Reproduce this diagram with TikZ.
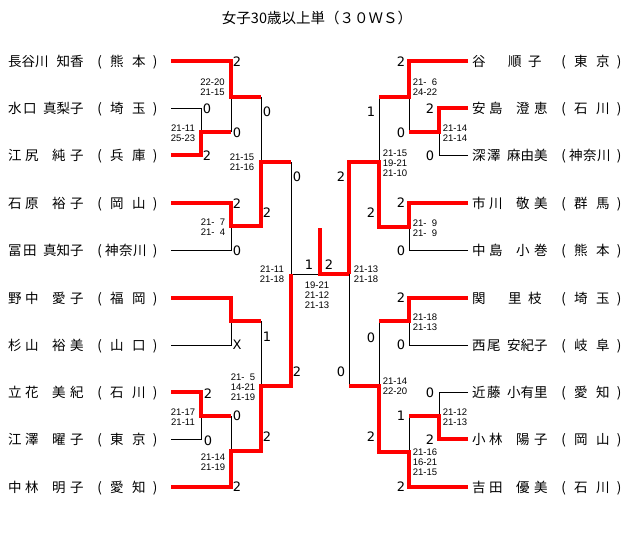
\documentclass[tikz,border=0pt]{standalone}
\usepackage{fontspec}
\setmainfont{Liberation Sans}
\newfontfamily\jpfont{Noto Sans CJK JP}
\newfontfamily\scfont{DejaVu Sans}
\definecolor{wred}{RGB}{255,0,0}
\newcommand\cb[2]{\makebox[#1pt][l]{#2}}
\newcommand\po{\makebox[8pt][c]{(}}
\newcommand\pc{\makebox[8pt][c]{)}}
\newcommand\nCB[5]{\cb{13.5}{#1}\cb{13.5}{#2}\cb{21.5}{#3}\cb{13.5}{#4}\cb{25.5}{#5}}
\newcommand\nBC[5]{\cb{15}{#1}\cb{20}{#2}\cb{13.5}{#3}\cb{13.5}{#4}\cb{25.5}{#5}}
\newcommand\nBB[4]{\cb{17}{#1}\cb{27}{#2}\cb{18}{#3}\cb{25.5}{#4}}
\newcommand\nAB[3]{\cb{36}{#1}\cb{20}{#2}\cb{31.5}{#3}}
\newcommand\pB[2]{\po\hspace{6.5pt}\cb{22}{#1}\cb{19}{#2}\pc}
\newcommand\pC[3]{\po\hspace{1.5pt}\cb{14}{#1}\cb{14}{#2}\cb{18}{#3}\pc}
\newcommand\ph{\phantom{0}}
\tikzset{
  win/.style={draw=wred, line width=3.6pt, line join=miter},
  los/.style={draw=black, line width=1pt},
  lbl/.style={anchor=west, inner sep=0pt, font=\jpfont\fontsize{13.5}{14}\selectfont, text height=11.9pt, text depth=1.6pt},
  sc/.style={inner sep=0pt, font=\scfont\fontsize{13}{14}\selectfont},
  gm/.style={inner sep=0pt, align=center, font=\fontsize{9.5}{10}\selectfont},
  ttl/.style={inner sep=0pt, font=\jpfont\fontsize{14.5}{16}\selectfont},
}
\begin{document}
\begin{tikzpicture}[x=1pt,y=-1pt]
\fill[white] (0,0) rectangle (640,533);
\useasboundingbox (0,0) rectangle (640,533);

\node[ttl] (title) at (317,18) {女子30歳以上単（３０ＷＳ）};

% player line ends
\foreach \i/\y in {1/61,2/108,3/155,4/203,5/250,6/298,7/345,8/392,9/439,10/487}{
  \coordinate (pl\i) at (171,\y);
  \coordinate (pr\i) at (468,\y);
}
% junctions
\coordinate (a1) at (231,97);
\coordinate (a2) at (201,132);
\coordinate (a3) at (231,226);
\coordinate (b1) at (261,162);
\coordinate (a4) at (231,321);
\coordinate (a5) at (201,416);
\coordinate (a6) at (231,451);
\coordinate (b2) at (261,386);
\coordinate (c1) at (291,274);
\coordinate (F) at (320,274);
\coordinate (T) at (320,228);
\coordinate (d1) at (409,97);
\coordinate (d2) at (439,132);
\coordinate (d3) at (409,227);
\coordinate (e1) at (379,162);
\coordinate (d4) at (409,321);
\coordinate (d5) at (439,416);
\coordinate (d6) at (409,452);
\coordinate (e2) at (379,386);
\coordinate (c2) at (349,274);

% losers (black)
\draw[los] (pl2) -| (a2);
\draw[los] (a2 -| a1) -- (a1);
\draw[los] (a1 -| b1) -- (b1);
\draw[los] (pl5) -| (a3);
\draw[los] (b1 -| c1) -- (c1);
\draw[los] (pl7) -| (a4);
\draw[los] (a4 -| b2) -- (b2);
\draw[los] (pl9) -| (a5);
\draw[los] (a5 -| a6) -- (a6);
\draw[los] (c1) -- (F);
\draw[los] (d1 -| e1) -- (e1);
\draw[los] (pr3) -| (d2);
\draw[los] (d2 -| d1) -- (d1);
\draw[los] (pr5) -| (d3);
\draw[los] (pr7) -| (d4);
\draw[los] (d4 -| e2) -- (e2);
\draw[los] (pr8) -| (d5);
\draw[los] (d5 -| d6) -- (d6);
\draw[los] (e2 -| c2) -- (c2);

% winners (red)
\draw[win] (pl3) -| (a2) -- (a2 -| a1);
\draw[win] (pl1) -| (a1) -- (a1 -| b1);
\draw[win] (pl4) -| (a3) -- (a3 -| b1) -- (b1) -- (b1 -| c1);
\draw[win] (pl6) -| (a4) -- (a4 -| b2);
\draw[win] (pl8) -| (a5) -- (a5 -| a6);
\draw[win] (pl10) -| (a6) -- (a6 -| b2) -- (b2) -- (b2 -| c1) -- (c1);
\draw[win] (c2) -- (F) -- (T);
\draw[win] (pr1) -| (d1) -- (d1 -| e1);
\draw[win] (pr2) -| (d2) -- (d2 -| d1);
\draw[win] (pr4) -| (d3) -- (d3 -| e1) -- (e1) -- (e1 -| c2) -- (c2);
\draw[win] (pr6) -| (d4) -- (d4 -| e2);
\draw[win] (pr9) -| (d5) -- (d5 -| d6);
\draw[win] (pr10) -| (d6) -- (d6 -| e2) -- (e2) -- (e2 -| c2);

% left labels
\node[lbl] (L1) at (8,61) {\nCB{長}{谷}{川}{知}{香}\pB{熊}{本}};
\node[lbl] (L2) at (8,108) {\nBC{水}{口}{真}{梨}{子}\pB{埼}{玉}};
\node[lbl] (L3) at (8,155) {\nBB{江}{尻}{純}{子}\pB{兵}{庫}};
\node[lbl] (L4) at (8,203) {\nBB{石}{原}{裕}{子}\pB{岡}{山}};
\node[lbl] (L5) at (8,250) {\nBC{冨}{田}{真}{知}{子}\pC{神}{奈}{川}};
\node[lbl] (L6) at (8,298) {\nBB{野}{中}{愛}{子}\pB{福}{岡}};
\node[lbl] (L7) at (8,345) {\nBB{杉}{山}{裕}{美}\pB{山}{口}};
\node[lbl] (L8) at (8,392) {\nBB{立}{花}{美}{紀}\pB{石}{川}};
\node[lbl] (L9) at (8,439) {\nBB{江}{澤}{曜}{子}\pB{東}{京}};
\node[lbl] (L10) at (8,487) {\nBB{中}{林}{明}{子}\pB{愛}{知}};
% right labels
\node[lbl] (R1) at (472,61) {\nAB{谷}{順}{子}\pB{東}{京}};
\node[lbl] (R2) at (472,108) {\nBB{安}{島}{澄}{恵}\pB{石}{川}};
\node[lbl] (R3) at (472,155) {\nBC{深}{澤}{麻}{由}{美}\pC{神}{奈}{川}};
\node[lbl] (R4) at (472,203) {\nBB{市}{川}{敬}{美}\pB{群}{馬}};
\node[lbl] (R5) at (472,250) {\nBB{中}{島}{小}{巻}\pB{熊}{本}};
\node[lbl] (R6) at (472,298) {\nAB{関}{里}{枝}\pB{埼}{玉}};
\node[lbl] (R7) at (472,345) {\nBC{西}{尾}{安}{紀}{子}\pB{岐}{阜}};
\node[lbl] (R8) at (472,392) {\nBC{近}{藤}{小}{有}{里}\pB{愛}{知}};
\node[lbl] (R9) at (472,439) {\nBB{小}{林}{陽}{子}\pB{岡}{山}};
\node[lbl] (R10) at (472,487) {\nBB{吉}{田}{優}{美}\pB{石}{川}};

% scores left
\node[sc] (s1) at (237,62) {2};
\node[sc] (s2) at (207,109) {0};
\node[sc] (s3) at (237,133) {0};
\node[sc] (s4) at (207,156) {2};
\node[sc] (s5) at (267,112) {0};
\node[sc] (s6) at (237,204) {2};
\node[sc] (s7) at (267,213) {2};
\node[sc] (s8) at (237,251) {0};
\node[sc] (s9) at (297,177) {0};
\node[sc] (s10) at (309,265) {1};
\node[sc] (s11) at (329,265) {2};
\node[sc] (s12) at (237,345) {X};
\node[sc] (s13) at (267,337) {1};
\node[sc] (s14) at (297,372) {2};
\node[sc] (s15) at (208,394) {2};
\node[sc] (s16) at (237,416) {0};
\node[sc] (s17) at (208,441) {0};
\node[sc] (s18) at (267,437) {2};
\node[sc] (s19) at (237,487) {2};
% scores right
\node[sc] (t1) at (341,177) {2};
\node[sc] (t2) at (401,62) {2};
\node[sc] (t3) at (430,109) {2};
\node[sc] (t4) at (371,112) {1};
\node[sc] (t5) at (401,133) {0};
\node[sc] (t6) at (430,156) {0};
\node[sc] (t7) at (401,203) {2};
\node[sc] (t8) at (371,213) {2};
\node[sc] (t9) at (401,251) {0};
\node[sc] (t10) at (401,298) {2};
\node[sc] (t11) at (371,338) {0};
\node[sc] (t12) at (401,345) {0};
\node[sc] (t13) at (341,372) {0};
\node[sc] (t14) at (430,393) {0};
\node[sc] (t15) at (401,416) {1};
\node[sc] (t16) at (371,437) {2};
\node[sc] (t17) at (430,440) {2};
\node[sc] (t18) at (401,487) {2};

% game scores
\node[gm] (g1) at (212.5,87.5) {22-20\\21-15};
\node[gm] (g2) at (183,133) {21-11\\25-23};
\node[gm] (g3) at (242,162) {21-15\\21-16};
\node[gm] (g4) at (213,227) {21-\ph7\\21-\ph4};
\node[gm] (g5) at (272,274) {21-11\\21-18};
\node[gm] (g6) at (317,295) {19-21\\21-12\\21-13};
\node[gm] (g7) at (243,387) {21-\ph5\\14-21\\21-19};
\node[gm] (g8) at (183,417) {21-17\\21-11};
\node[gm] (g9) at (213,462) {21-14\\21-19};
\node[gm] (g10) at (425,87.5) {21-\ph6\\24-22};
\node[gm] (g11) at (455,133) {21-14\\21-14};
\node[gm] (g12) at (395,163) {21-15\\19-21\\21-10};
\node[gm] (g13) at (425,228) {21-\ph9\\21-\ph9};
\node[gm] (g14) at (366,274) {21-13\\21-18};
\node[gm] (g15) at (425,322) {21-18\\21-13};
\node[gm] (g16) at (395,386) {21-14\\22-20};
\node[gm] (g17) at (455,417) {21-12\\21-13};
\node[gm] (g18) at (425,462) {21-16\\16-21\\21-15};
\end{tikzpicture}
\end{document}
